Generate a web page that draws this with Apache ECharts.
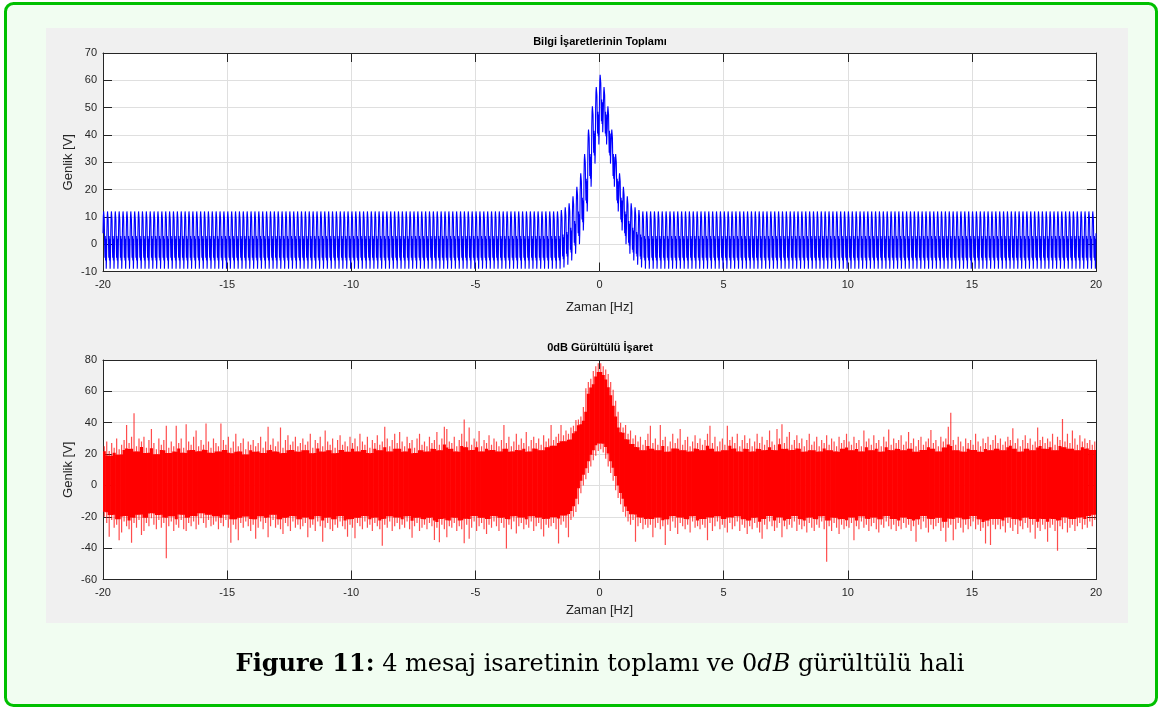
<!DOCTYPE html>
<html>
<head>
<meta charset="utf-8">
<title>Bilgi İşaretlerinin Toplamı</title>
<script src="https://cdn.jsdelivr.net/npm/echarts/dist/echarts.min.js"></script>
<style>
  html, body { margin: 0; padding: 0; background: #ffffff; }
  #chart { width: 1162px; height: 709px; }
</style>
</head>
<body>
<div id="chart"></div>
<script>
// ---- axis ranges ----
const freqRange = [-20, 20];
const freqStep = 5;
const sumRange = [-10, 70];
const sumStep = 10;
const noisyRange = [-60, 80];
const noisyStep = 20;

// ---- summed message signal ----
// one period of the repeating waveform (V)
const carrierCycle = [4, 10, 12, 12, 9, 1, -5, 3, -6, 2, -9, -5];
// number of periods across the 40 Hz span
const cycleCount = 256;
// first period index that carries the central pulse
const pulseStart = 118;
// lift of the central pulse, one value per period (V)
const pulseLevels = [0.5, 1.5, 3, 5.5, 9, 14, 21, 30, 38.5, 45.5, 50,
                     45.5, 38.5, 30, 21, 14, 9, 5.5, 3, 1.5, 0.5];

// ---- 0 dB noisy signal: upper / lower extent of each 0.1 Hz bin (V) ----
const noiseBinWidth = 0.1;
const noiseHigh = [
  25, 28, 22, 27, 24, 30, 23, 26, 29, 38.5, 27, 31, 46, 25, 30, 28, 31, 24, 29, 36,
  27, 23, 30, 26, 29, 38, 24, 28, 25, 38, 27, 30, 24, 39, 28, 26, 31, 35, 25, 29,
  26, 39.5, 28, 24, 30, 27, 25, 39.5, 29, 26, 31, 24, 28, 33, 25, 27, 30, 23, 28, 26,
  29, 25, 27, 31, 24, 28, 37.5, 26, 30, 25, 28, 37, 24, 29, 32, 26, 28, 31, 25, 27,
  30, 26, 28, 33, 24, 29, 27, 31, 25, 35, 28, 26, 30, 24, 29, 32, 26, 28, 25, 31,
  27, 30, 25, 33, 28, 26, 31, 24, 29, 27, 32, 26, 28, 37.4, 30, 25, 29, 33, 27, 34,
  28, 25, 31, 27, 29, 24, 30, 33, 26, 28, 25, 31, 27, 29, 34, 26, 30, 37.4, 36, 28,
  27, 31, 25, 29, 33, 42, 28, 37, 26, 30, 28, 34.7, 25, 29, 27, 32, 26, 30, 28, 25,
  29, 38.5, 27, 31, 25, 28, 33, 26, 30, 27, 34, 25, 29, 31, 27, 30, 26, 32, 28, 30,
  38.5, 29, 31, 33, 38.5, 32, 35, 33, 37, 38, 41.7, 42, 44, 50, 62, 66, 68, 73, 76, 78,
  78, 76, 74, 71, 66, 61, 54, 47, 40, 37, 38.5, 33, 35, 30, 32, 28, 31, 26, 29, 33,
  38, 27, 30, 26, 38.5, 29, 31, 25, 28, 33, 27, 30, 36, 26, 29, 31, 25, 28, 32, 27,
  30, 26, 29, 33, 38, 27, 31, 25, 28, 30, 26, 38, 29, 31, 27, 33, 25, 29, 32, 27,
  30, 25, 28, 33, 27, 31, 26, 29, 35, 28, 26, 36, 30, 39, 27, 31, 34, 26, 29, 32,
  27, 30, 25, 29, 33, 26, 28, 31, 25, 29, 27, 32, 26, 30, 28, 25, 31, 27, 29, 33,
  28, 26, 31, 27, 29, 25, 35, 28, 30, 26, 32, 27, 29, 25, 31, 28, 35.7, 26, 30, 27,
  29, 32, 26, 28, 34, 27, 30, 25, 29, 31, 26, 28, 30, 35.3, 27, 29, 25, 31, 28, 30,
  37.5, 46.4, 29, 26, 31, 28, 25, 30, 27, 29, 26, 33, 28, 25, 30, 27, 31, 26, 29, 32,
  27, 30, 26, 28, 31, 29, 36.4, 27, 30, 25, 29, 32, 27, 30, 26, 28, 37, 29, 31, 27,
  30, 28, 33, 26, 31, 29, 42.3, 28, 33, 27, 35, 30, 26, 32, 28, 30, 27, 29, 26, 28
];
const noiseLow = [
  -20, -24, -32.7, -22, -27, -25, -35, -30, -23, -26, -28, -36.5, -24, -27, -22, -31.6, -29, -24, -26, -21,
  -25, -28, -22, -27, -24, -46.5, -26, -23, -29, -25, -27, -22, -28, -29, -24, -26, -23, -28, -25, -21,
  -24, -27, -22, -26, -25, -23, -28, -24, -26, -22, -27, -36.5, -25, -28, -35, -24, -27, -23, -26, -29,
  -25, -34, -27, -23, -28, -24, -33, -26, -22, -27, -25, -28, -31, -24, -26, -29, -23, -27, -25, -28,
  -26, -24, -33, -27, -25, -29, -23, -26, -36, -27, -24, -28, -29, -25, -27, -23, -26, -28, -32.7, -25,
  -27, -33.7, -24, -26, -28, -23, -27, -25, -29, -24, -26, -28, -38.4, -25, -27, -23, -29, -26, -24, -28,
  -25, -27, -23, -28, -33.3, -26, -24, -29, -27, -25, -28, -24, -26, -34.8, -27, -36.3, -25, -28, -33, -26,
  -27, -24, -29, -26, -28, -36.9, -25, -34, -27, -23, -29, -26, -24, -28, -31, -25, -27, -23, -26, -29,
  -24, -27, -40.2, -25, -28, -23, -30.7, -26, -24, -28, -25, -27, -23, -29, -26, -24, -28, -32.5, -25, -27,
  -26, -24, -28, -37, -25, -23, -27, -33, -22, -20, -17, -12, -5, 0, 4, 8, 12, 16, 19, 22,
  23, 21, 17, 12, 8, 3, -3, -8, -12, -17, -20, -23, -25, -22, -36, -26, -24, -28, -25, -27,
  -25, -33, -27, -24, -28, -26, -38, -25, -29, -23, -27, -31, -24, -26, -28, -25, -30, -23, -27, -26,
  -28, -25, -27, -35, -24, -29, -26, -23, -28, -25, -27, -30, -24, -28, -26, -23, -29, -25, -27, -31,
  -26, -28, -24, -27, -30, -34, -25, -28, -23, -26, -29, -27, -24, -33, -26, -28, -25, -27, -23, -29,
  -25, -28, -26, -30, -24, -27, -29, -25, -27, -23, -28, -48.6, -26, -29, -24, -27, -31, -25, -28, -26,
  -27, -24, -35, -26, -28, -23, -27, -25, -29, -26, -24, -28, -30, -25, -27, -23, -26, -28, -25, -29,
  -26, -28, -24, -27, -25, -29, -26, -36, -25, -28, -23, -27, -30, -25, -28, -26, -24, -29, -27, -36,
  -27, -25, -35, -28, -24, -27, -30, -25, -28, -26, -23, -28, -25, -29, -27, -37, -26, -38, -25, -28,
  -25, -28, -26, -30, -24, -27, -29, -25, -31, -26, -28, -24, -27, -30, -25, -34, -27, -29, -25, -28,
  -36, -27, -25, -29, -41.6, -26, -28, -24, -30, -27, -25, -29, -26, -24, -28, -25, -27, -23, -26, -22
];

// ---- texts ----
const sumTitle = 'Bilgi İşaretlerinin Toplamı';
const noisyTitle = '0dB Gürültülü İşaret';
const xName = 'Zaman [Hz]';
const yName = 'Genlik [V]';

// ---- build the summed signal as a polyline ----
const period = (freqRange[1] - freqRange[0]) / cycleCount;
const sumData = [];
for (let k = 0; k < cycleCount; k++) {
  const idx = k - pulseStart;
  const lift = (idx >= 0 && idx < pulseLevels.length) ? pulseLevels[idx] : 0;
  carrierCycle.forEach(function (v, j) {
    sumData.push([freqRange[0] + (k + j / carrierCycle.length) * period, v + lift]);
  });
}
sumData.push([freqRange[1], carrierCycle[0]]);

// ---- noisy signal bins: [centre, low, high] ----
const noiseData = noiseHigh.map(function (h, i) {
  return [freqRange[0] + (i + 0.5) * noiseBinWidth, noiseLow[i], h];
});

// each bin: a saturated core where neighbouring bins overlap, plus a thin stroke out to its extremes
const coreSpan = 0.86;
function renderNoise(params, api) {
  const i = params.dataIndex;
  const x = api.value(0);
  const lo = api.value(1);
  const hi = api.value(2);
  const nb = [i - 1, i, i + 1].filter(function (j) { return j >= 0 && j < noiseHigh.length; });
  const nHi = Math.min.apply(null, nb.map(function (j) { return noiseHigh[j]; }));
  const nLo = Math.max.apply(null, nb.map(function (j) { return noiseLow[j]; }));
  const mid = (nHi + nLo) / 2;
  const coreHi = mid + (nHi - mid) * coreSpan;
  const coreLo = mid + (nLo - mid) * coreSpan;
  const a = api.coord([x - noiseBinWidth / 2, coreHi]);
  const b = api.coord([x + noiseBinWidth / 2, coreLo]);
  const pTop = api.coord([x, hi]);
  const pBot = api.coord([x, lo]);
  return {
    type: 'group',
    children: [
      { type: 'rect', shape: { x: a[0] - 0.3, y: a[1], width: b[0] - a[0] + 0.6, height: b[1] - a[1] },
        style: { fill: '#ff0000' } },
      { type: 'line', shape: { x1: pTop[0], y1: pTop[1], x2: pBot[0], y2: pBot[1] },
        style: { stroke: 'rgba(255,0,0,0.7)', lineWidth: 1.2 } }
    ]
  };
}

const ink = '#262626';
const gridLine = '#dfdfdf';
const sans = 'Liberation Sans, Arial, Helvetica, sans-serif';

function mainX(gridIndex, gap) {
  return {
    gridIndex: gridIndex, type: 'value', position: 'bottom',
    min: freqRange[0], max: freqRange[1], interval: freqStep,
    axisLine: { show: true, onZero: false, lineStyle: { color: ink, width: 1 } },
    axisTick: { show: true, inside: true, length: 9, lineStyle: { color: ink } },
    axisLabel: { color: ink, fontSize: 11, fontFamily: sans, margin: 8 },
    splitLine: { show: true, lineStyle: { color: gridLine, width: 1 } },
    name: xName, nameLocation: 'middle', nameGap: gap, nameMoveOverlap: false,
    nameTextStyle: { color: ink, fontSize: 13, fontFamily: sans }
  };
}
function mirrorX(gridIndex) {
  return {
    gridIndex: gridIndex, type: 'value', position: 'top',
    min: freqRange[0], max: freqRange[1], interval: freqStep,
    axisLine: { show: true, onZero: false, lineStyle: { color: ink, width: 1 } },
    axisTick: { show: true, inside: true, length: 9, lineStyle: { color: ink } },
    axisLabel: { show: false }, splitLine: { show: false }
  };
}
function mainY(gridIndex, range, step) {
  return {
    gridIndex: gridIndex, type: 'value', position: 'left',
    min: range[0], max: range[1], interval: step,
    axisLine: { show: true, onZero: false, lineStyle: { color: ink, width: 1 } },
    axisTick: { show: true, inside: true, length: 9, lineStyle: { color: ink } },
    axisLabel: { color: ink, fontSize: 11, fontFamily: sans, margin: 6 },
    splitLine: { show: true, lineStyle: { color: gridLine, width: 1 } },
    name: yName, nameLocation: 'middle', nameGap: 28, nameMoveOverlap: false,
    nameTextStyle: { color: ink, fontSize: 13, fontFamily: sans }
  };
}
function mirrorY(gridIndex, range, step) {
  return {
    gridIndex: gridIndex, type: 'value', position: 'right',
    min: range[0], max: range[1], interval: step,
    axisLine: { show: true, onZero: false, lineStyle: { color: ink, width: 1 } },
    axisTick: { show: true, inside: true, length: 9, lineStyle: { color: ink } },
    axisLabel: { show: false }, splitLine: { show: false }
  };
}

const chart = echarts.init(document.getElementById('chart'), null, { renderer: 'canvas' });
chart.setOption({
  animation: false,
  backgroundColor: 'transparent',
  grid: [
    { left: 103, top: 53, width: 993, height: 218.5, show: true, backgroundColor: '#ffffff',
      borderWidth: 0, containLabel: false, outerBoundsMode: 'none' },
    { left: 103, top: 360, width: 993, height: 219.5, show: true, backgroundColor: '#ffffff',
      borderWidth: 0, containLabel: false, outerBoundsMode: 'none' }
  ],
  xAxis: [mainX(0, 29), mirrorX(0), mainX(1, 24), mirrorX(1)],
  yAxis: [mainY(0, sumRange, sumStep), mirrorY(0, sumRange, sumStep),
          mainY(1, noisyRange, noisyStep), mirrorY(1, noisyRange, noisyStep)],
  series: [
    {
      type: 'line', xAxisIndex: 0, yAxisIndex: 0, data: sumData,
      showSymbol: false, symbol: 'none', sampling: false, silent: true,
      lineStyle: { color: '#0000ff', width: 1.1 }, z: 3
    },
    {
      type: 'custom', xAxisIndex: 2, yAxisIndex: 2, data: noiseData,
      renderItem: renderNoise, silent: true, clip: true, z: 3
    }
  ],
  graphic: [
    { type: 'rect', z: -20, shape: { x: 5.5, y: 3.5, width: 1151, height: 702, r: 8 },
      style: { fill: '#f1fdf1', stroke: '#00c000', lineWidth: 3 } },
    { type: 'rect', z: -15, shape: { x: 46, y: 28, width: 1082, height: 595 },
      style: { fill: '#f0f0f0' } },
    { type: 'text', z: 10, x: 600, y: 42,
      style: { text: sumTitle, fill: '#000000', font: 'bold 11px ' + sans, align: 'center', verticalAlign: 'middle' } },
    { type: 'text', z: 10, x: 600, y: 348,
      style: { text: noisyTitle, fill: '#000000', font: 'bold 11px ' + sans, align: 'center', verticalAlign: 'middle' } },
    { type: 'text', z: 10, x: 600, y: 665,
      style: {
        text: '{b|Figure 11:}{n| 4 mesaj isaretinin toplamı ve }{n|0}{i|dB}{n| gürültülü hali}',
        align: 'center', verticalAlign: 'middle',
        rich: {
          b: { fill: '#000', fontFamily: 'DejaVu Serif', fontWeight: 'bold', fontSize: 24 },
          n: { fill: '#000', fontFamily: 'DejaVu Serif', fontSize: 24 },
          i: { fill: '#000', fontFamily: 'DejaVu Serif', fontStyle: 'italic', fontSize: 24 }
        }
      } }
  ]
});
</script>
</body>
</html>
